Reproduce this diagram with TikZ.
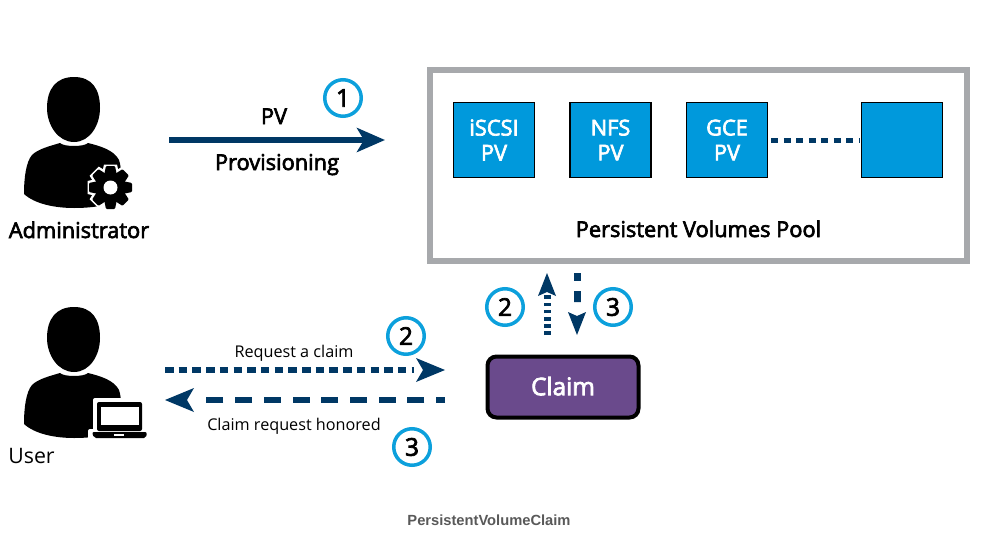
\documentclass[tikz,border=0pt]{standalone}
\usepackage{fontspec}
\setmainfont{Open Sans}
\newfontfamily\semib[FakeBold=3]{Open Sans}
\newfontfamily\capt{Liberation Sans}
\usetikzlibrary{arrows.meta}
\definecolor{navy}{HTML}{003865}
\definecolor{cyanring}{HTML}{0CA0DC}
\definecolor{boxblue}{HTML}{0099DC}
\definecolor{poolgray}{HTML}{A7A9AC}
\definecolor{claimpurple}{HTML}{6A4A8C}
\tikzset{
  ring/.style={circle,draw=cyanring,line width=3.5pt,fill=white,minimum size=36.5pt,inner sep=0pt,font=\semib\fontsize{24.5}{25}\selectfont},
  pvbox/.style={draw=black,line width=1.5pt,fill=boxblue,minimum width=81pt,minimum height=75pt,inner sep=0pt,align=center,text=white,font=\semib\fontsize{21.8}{25}\selectfont},
  flow/.style={draw=navy,line width=6.5pt,-{Stealth[length=28pt,width=24pt,inset=7pt]}},
  lab/.style={inner sep=0pt,font=\semib\fontsize{21.8}{24}\selectfont},
  smalllab/.style={inner sep=0pt,font=\fontsize{16.2}{18}\selectfont}
}
\newcommand{\personshape}[2]{%
  \begin{scope}[shift={(#1,#2)}]
    \fill[black] (74,77) .. controls (56,77) and (47,89) .. (47,108)
      .. controls (47,125) and (58,142) .. (74,142)
      .. controls (90,142) and (100,125) .. (100,108)
      .. controls (100,89) and (92,77) .. (74,77) -- cycle;
    \fill[black] (60,143) .. controls (64,147) and (84,147) .. (88,143)
      .. controls (100,146) and (114,150) .. (119,160)
      .. controls (122,168) and (122,190) .. (122,198)
      .. controls (110,206) and (90,208) .. (74,208)
      .. controls (55,208) and (35,204) .. (24,194)
      .. controls (24,178) and (26,162) .. (32,155)
      .. controls (38,149) and (50,146) .. (60,143) -- cycle;
  \end{scope}}
\begin{document}
\begin{tikzpicture}[x=1pt,y=-1pt]
\useasboundingbox (0,0) rectangle (991,546);
\fill[white] (0,0) rectangle (991,546);

% Administrator icon
\personshape{0}{0}
\begin{scope}[shift={(110.5,187.5)},y=1pt]
  \foreach \a in {0,45,...,315}{
    \fill[white,draw=white,line width=5pt,rotate=\a] (-4.5,-20.5) -- (4.5,-20.5) -- (6.5,-12) -- (-6.5,-12) -- cycle;
  }
  \fill[white] (0,0) circle (18);
  \foreach \a in {0,45,...,315}{
    \fill[black,rotate=\a,rounded corners=1pt] (-4.5,-21.5) -- (4.5,-21.5) -- (6.5,-12) -- (-6.5,-12) -- cycle;
  }
  \fill[black] (0,0) circle (15);
  \fill[white] (0,0) circle (7);
\end{scope}

% User icon
\personshape{0}{230}
\fill[white,rounded corners=2pt] (93,398) rectangle (146,432);
\fill[white,rounded corners=2pt] (88,429) rectangle (150,441);
\fill[black,rounded corners=2pt] (97,402) rectangle (142,431);
\fill[white] (101,407) rectangle (138.5,425);
\fill[black,rounded corners=2pt] (92,432) -- (147,432) -- (146,438) -- (94,438) -- cycle;
\fill[white] (114,434) rectangle (124,436);

\node[lab,anchor=base] (admin) at (79,238) {Administrator};
\node[inner sep=0pt,font=\fontsize{21.3}{24}\selectfont,anchor=base] (user) at (31.5,463) {User};

% Pool
\node[draw=poolgray,line width=6pt,minimum width=537pt,minimum height=191pt,inner sep=0pt] (pool) at (698.5,165) {};
\node[pvbox] (iscsi) at (494,140) {iSCSI\\PV};
\node[pvbox] (nfs) at (610.5,140) {NFS\\PV};
\node[pvbox] (gce) at (727,140) {GCE\\PV};
\node[pvbox] (blank) at (902,140) {};
\node[lab,anchor=base] (poollab) at (698.5,237) {Persistent Volumes Pool};
\draw[navy,line width=5pt,dash pattern=on 7pt off 5.5pt,shorten >=1pt,shorten <=3pt] (gce.east) -- (blank.west);

% PV provisioning
\coordinate (pvs) at (169,140);
\coordinate (pve) at (385,140);
\draw[flow] (pvs) -- (pve);
\node[lab,anchor=base] (pvlab) at (274,124) {PV};
\node[lab,anchor=base] (provlab) at (277,170) {Provisioning};
\node[ring] (c1) at (343,98) {1};

% Claim
\node[draw=black,fill=claimpurple,line width=4pt,rounded corners=9pt,minimum width=151pt,minimum height=61pt,inner sep=0pt,text=white,font=\semib\fontsize{24.3}{26}\selectfont] (claim) at (563,387) {\raisebox{2pt}{Claim}};

% Request / honored
\coordinate (reqs) at (165,370);
\coordinate (reqe) at (445,370);
\coordinate (hons) at (445,400);
\coordinate (hone) at (165,400);
\draw[navy,line width=6.5pt,dash pattern=on 8.5pt off 5.2pt] (reqs) -- (414,370);
\fill[navy] (reqe) -- (416,358) -- (423,370) -- (416,382) -- cycle;
\draw[navy,line width=6.5pt,dash pattern=on 17pt off 11.7pt,dash phase=8pt] (hons) -- (206,400);
\fill[navy] (hone) -- (194,388) -- (187,400) -- (194,412) -- cycle;
\node[smalllab,anchor=base] (reqlab) at (294,357) {Request a claim};
\node[smalllab,anchor=base] (honlab) at (294,430) {Claim request honored};
\node[ring] (c2) at (406,336) {2};
\node[ring] (c3) at (412,447) {3};

% Vertical
\coordinate (ups) at (547,335);
\coordinate (upe) at (547,273);
\coordinate (dns) at (577,273);
\coordinate (dne) at (577,335);
\draw[navy,line width=7pt,dash pattern=on 3.6pt off 3.6pt] (ups) -- (547,293);
\fill[navy] (upe) -- (538,296) -- (547,292) -- (556,296) -- cycle;
\draw[navy,line width=7pt,dash pattern=on 8pt off 10pt on 11pt off 0pt] (dns) -- (577,302);
\fill[navy] (dne) -- (568,312) -- (577,316) -- (586,312) -- cycle;
\node[ring] (c2b) at (505,307) {2};
\node[ring] (c3b) at (613,307) {3};

\node[inner sep=0pt,anchor=base,text=black!65,font=\capt\bfseries\fontsize{14.7}{16}\selectfont] (cap) at (489,525) {PersistentVolumeClaim};
\end{tikzpicture}
\end{document}
